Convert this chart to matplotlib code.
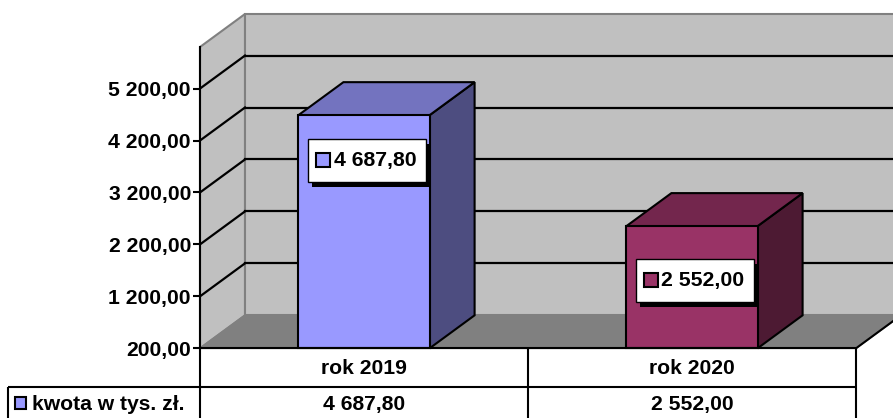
import matplotlib
matplotlib.use('Agg')
import matplotlib.pyplot as plt
from matplotlib.patches import Polygon, Rectangle

# ---- data ----
categories = ['rok 2019', 'rok 2020']
values = [4687.80, 2552.00]
value_labels = ['4 687,80', '2 552,00']
series_name = 'kwota w tys. zł.'
tick_values = [200, 1200, 2200, 3200, 4200, 5200]
tick_labels = ['200,00', '1 200,00', '2 200,00', '3 200,00', '4 200,00', '5 200,00']
y_min, y_max = 200, 6000

# ---- style ----
front_colors = ['#9999FF', '#993366']
top_colors = ['#7373BF', '#73264D']
side_colors = ['#4D4D80', '#4D1A33']
label_offsets = [45, 54]     # px below bar top (label centre)
WALL = '#C0C0C0'
FLOOR = '#808080'
EDGE = '#808080'
DX, DY = 45, 33              # 3-D depth in pixels
FS = 15.2

plt.rcParams['font.family'] = ['Liberation Sans', 'DejaVu Sans']

W, H = 893, 418
fig = plt.figure(figsize=(W / 100, H / 100), dpi=100)
fig.patch.set_facecolor('white')

ax = fig.add_axes([200 / W, (H - 348.3) / H, 656 / W, 301.3 / H])
ax.set_xlim(0, len(categories))
ax.set_ylim(y_min, y_max)
ax.patch.set_visible(False)
for s in ['top', 'right', 'bottom']:
    ax.spines[s].set_visible(False)
ax.spines['left'].set_linewidth(1.5)
ax.spines['left'].set_zorder(10)
ax.set_xticks([])
ax.set_yticks(tick_values)
ax.set_yticklabels(tick_labels)
ax.tick_params(axis='y', length=5, width=1.5, pad=1.5, labelsize=FS)
for t in ax.get_yticklabels():
    t.set_fontweight('bold')


def back(x, y):
    d = ax.transData.transform((x, y)) + (DX, DY)
    return tuple(ax.transData.inverted().transform(d))


n = len(categories)
# left wall
ax.add_patch(Polygon([(0, y_min), (0, y_max), back(0, y_max), back(0, y_min)],
                     closed=True, fc=WALL, ec=EDGE, lw=1.5, clip_on=False, zorder=1))
# back wall
ax.add_patch(Polygon([back(0, y_min), back(0, y_max), back(n, y_max), back(n, y_min)],
                     closed=True, fc=WALL, ec=EDGE, lw=1.5, clip_on=False, zorder=1))
# floor
ax.add_patch(Polygon([(0, y_min), (n, y_min), back(n, y_min), back(0, y_min)],
                     closed=True, fc=FLOOR, ec=EDGE, lw=1.2, clip_on=False, zorder=2))
bx, by = back(n, y_min)
ax.plot([n, bx], [y_min, by], color='black', lw=1.5, clip_on=False, zorder=3)

# gridlines
for v in tick_values[1:]:
    b0 = back(0, v)
    b1 = back(n, v)
    ax.plot([0, b0[0]], [v, b0[1]], color='black', lw=1.6, clip_on=False, zorder=3)
    ax.plot([b0[0], b1[0]], [b0[1], b1[1]], color='black', lw=1.6, clip_on=False, zorder=3)

# bars
bw = 0.4
for i, v in enumerate(values):
    x0 = i + 0.5 - bw / 2
    x1 = i + 0.5 + bw / 2
    ax.add_patch(Polygon([(x1, y_min), (x1, v), back(x1, v), back(x1, y_min)], closed=True,
                         fc=side_colors[i], ec='black', lw=1.5, clip_on=False, zorder=4))
    ax.add_patch(Polygon([(x0, v), (x1, v), back(x1, v), back(x0, v)], closed=True,
                         fc=top_colors[i], ec='black', lw=1.5, clip_on=False, zorder=4))
    ax.add_patch(Rectangle((x0, y_min), bw, v - y_min, fc=front_colors[i], ec='black',
                           lw=1.5, clip_on=False, zorder=5))

# ---- pixel overlay for labels and data table ----
pix = fig.add_axes([0, 0, 1, 1])
pix.set_xlim(0, W)
pix.set_ylim(H, 0)
pix.axis('off')


def to_pix(x, v):
    d = ax.transData.transform((x, v))
    return d[0], H - d[1]


for i, v in enumerate(values):
    cx, ctop = to_pix(i + 0.5, v)
    cx += 2.5
    cy = ctop + label_offsets[i]
    bwid, bht = 118, 43
    pix.add_patch(Rectangle((cx - bwid / 2 + 4, cy - bht / 2 + 5), bwid, bht, fc='black', ec='none'))
    pix.add_patch(Rectangle((cx - bwid / 2, cy - bht / 2), bwid, bht, fc='white', ec='black', lw=1))
    pix.add_patch(Rectangle((cx - 51, cy - 7), 14, 14, fc=front_colors[i], ec='black', lw=1.5))
    pix.text(cx + 8.5, cy + 0.5, value_labels[i], ha='center', va='center',
             fontsize=15.3, fontweight='bold', color='black')

# data table
xl = to_pix(0, y_min)[0]
xr = to_pix(n, y_min)[0]
y0 = to_pix(0, y_min)[1]
y1 = y0 + 38.5
lk = dict(color='black', lw=1.5, solid_capstyle='butt')
pix.plot([xl, xr], [y0, y0], **lk)
pix.plot([8, xr], [y1, y1], **lk)
pix.plot([8, 8], [y1, H + 5], **lk)
pix.plot([xl, xl], [y0, H + 5], **lk)
for i in range(n):
    xe = to_pix(i + 1, y_min)[0]
    pix.plot([xe, xe], [y0, H + 5], **lk)
    xc = to_pix(i + 0.5, y_min)[0]
    pix.text(xc, y0 + 20, categories[i], ha='center', va='center',
             fontsize=FS, fontweight='bold')
    pix.text(xc, y1 + 17.5, value_labels[i], ha='center', va='center',
             fontsize=FS, fontweight='bold')
pix.add_patch(Rectangle((15, y1 + 10.5), 11, 12, fc=front_colors[0], ec='black', lw=1.5))
pix.text(32, y1 + 17.5, series_name, ha='left', va='center', fontsize=FS, fontweight='bold')

fig.savefig('out.png', dpi=100, facecolor='white')
